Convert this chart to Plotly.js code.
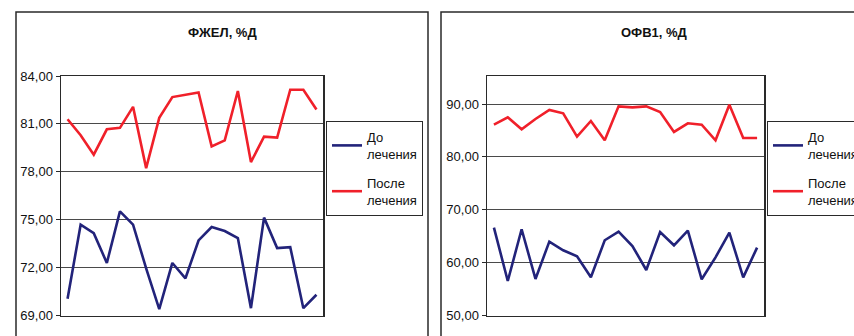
<!DOCTYPE html>
<html>
<head>
<meta charset="utf-8">
<script src="https://cdn.plot.ly/plotly-3.0.1.min.js"></script>
<style>
  html, body { margin: 0; padding: 0; background: #fff; }
  #chart { width: 854px; height: 336px; }
</style>
</head>
<body>
<div id="chart"></div>
<script>
// Patient numbers (x categories)
const patients = [1, 2, 3, 4, 5, 6, 7, 8, 9, 10, 11, 12, 13, 14, 15, 16, 17, 18, 19, 20];

// ФЖЕЛ, % of predicted
const fvcBefore = [70.05, 74.69, 74.16, 72.29, 75.52, 74.69, 71.95, 69.40, 72.29, 71.33,
                   73.70, 74.54, 74.29, 73.85, 69.46, 75.13, 73.22, 73.28, 69.46, 70.30];
const fvcAfter  = [81.29, 80.29, 79.07, 80.66, 80.75, 82.07, 78.23, 81.38, 82.68, 82.82,
                   82.97, 79.59, 79.97, 83.06, 78.61, 80.20, 80.14, 83.14, 83.14, 81.90];

// ОФВ1, % of predicted
const fev1Before = [66.62, 56.53, 66.31, 56.91, 63.97, 62.33, 61.20, 57.22, 64.23, 65.87,
                    63.15, 58.61, 65.80, 63.28, 66.06, 56.85, 61.00, 65.68, 57.22, 62.84];
const fev1After  = [86.10, 87.48, 85.22, 87.17, 88.87, 88.24, 83.84, 86.79, 83.14, 89.56,
                    89.37, 89.56, 88.49, 84.72, 86.35, 86.10, 83.14, 89.87, 83.58, 83.58];

const seriesNames = ['До<br>лечения', 'После<br>лечения'];
const chartTitles = ['ФЖЕЛ, %Д', 'ОФВ1, %Д'];
const fvcTicks = [69, 72, 75, 78, 81, 84];
const fev1Ticks = [50, 60, 70, 80, 90];

const W = 854, H = 336;
const px = v => v / W;
const py = v => 1 - v / H;

const navy = '#22237a';
const red = '#f0202a';
const font = 'Arial, "Liberation Sans", sans-serif';

function line(y, name, color, xa, ya, leg, group) {
  return {
    x: patients, y: y, name: name, type: 'scatter', mode: 'lines',
    line: { color: color, width: 2.6 },
    xaxis: xa, yaxis: ya, legend: leg, legendgroup: group, hoverinfo: 'skip'
  };
}

const data = [
  line(fvcBefore, seriesNames[0], navy, 'x', 'y', 'legend', 'before'),
  line(fvcAfter, seriesNames[1], red, 'x', 'y', 'legend', 'after'),
  line(fev1Before, seriesNames[0], navy, 'x2', 'y2', 'legend2', 'before'),
  line(fev1After, seriesNames[1], red, 'x2', 'y2', 'legend2', 'after')
];

function xAxis(domain, anchor) {
  return {
    domain: domain, anchor: anchor, range: [0.5, 20.5],
    showticklabels: false, showgrid: false, zeroline: false,
    showline: true, mirror: true, linecolor: '#2a2a2a', linewidth: 1.5,
    ticks: '', fixedrange: true
  };
}
function yAxis(domain, anchor, range, ticks) {
  return {
    domain: domain, anchor: anchor, range: range,
    tickvals: ticks, tickformat: '.2f',
    showgrid: true, gridcolor: '#4a4a4a', gridwidth: 1,
    zeroline: false, showline: true, mirror: true,
    linecolor: '#2a2a2a', linewidth: 1.5,
    ticks: 'outside', ticklen: 4, tickcolor: '#2a2a2a', tickwidth: 1,
    tickfont: { family: font, size: 13, color: '#111' },
    fixedrange: true
  };
}

function legendBox(xLeft, yTop) {
  return {
    x: px(xLeft), y: py(yTop), xanchor: 'left', yanchor: 'top',
    bgcolor: '#fff', bordercolor: '#2a2a2a', borderwidth: 1,
    font: { family: font, size: 13, color: '#111' },
    tracegroupgap: 9, itemwidth: 30, traceorder: 'grouped'
  };
}

const frame = (x0, y0, x1, y1) => ({
  type: 'rect', xref: 'paper', yref: 'paper',
  x0: px(x0), x1: px(x1), y0: py(y1), y1: py(y0),
  line: { color: '#2a2a2a', width: 1.5 }, fillcolor: 'rgba(0,0,0,0)', layer: 'below'
});

const title = (text, x) => ({
  text: '<b>' + text + '</b>', x: px(x), y: py(33), xref: 'paper', yref: 'paper',
  xanchor: 'center', yanchor: 'middle', showarrow: false,
  font: { family: font, size: 13, color: '#111' }
});

const layout = {
  width: W, height: H,
  margin: { l: 0, r: 0, t: 0, b: 0, autoexpand: false },
  paper_bgcolor: '#fff', plot_bgcolor: '#fff',
  separators: ', ',
  font: { family: font, color: '#111' },
  showlegend: true,
  xaxis: xAxis([px(61), px(323)], 'y'),
  yaxis: yAxis([py(315.5), py(76)], 'x', [69, 84], fvcTicks),
  xaxis2: xAxis([px(487), px(764)], 'y2'),
  yaxis2: yAxis([py(315.5), py(76)], 'x2', [50, 95.3], fev1Ticks),
  legend: legendBox(326, 121),
  legend2: legendBox(767, 121),
  shapes: [frame(16, 12, 428, 345), frame(441, 12, 870, 345)],
  annotations: [title(chartTitles[0], 222), title(chartTitles[1], 654)]
};

Plotly.newPlot('chart', data, layout, { staticPlot: true, displayModeBar: false });
</script>
</body>
</html>
